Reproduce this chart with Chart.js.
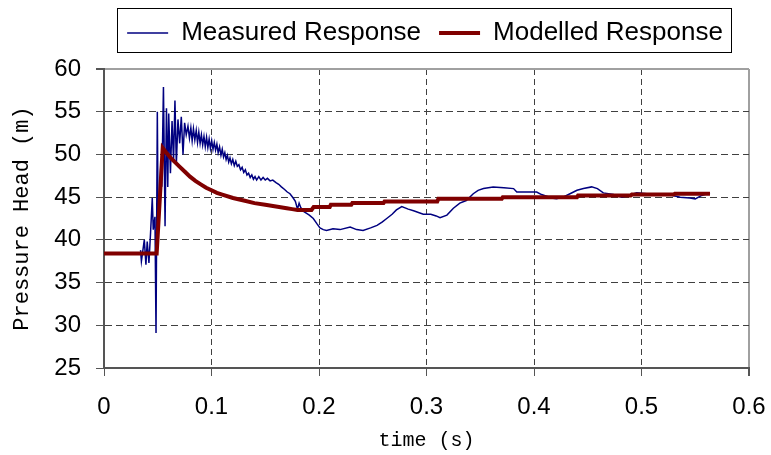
<!DOCTYPE html>
<html>
<head>
<meta charset="utf-8">
<script src="https://cdn.jsdelivr.net/npm/chart.js@4.4.0/dist/chart.umd.min.js"></script>
<style>
  html, body { margin: 0; padding: 0; background: #fff; }
  canvas { display: block; }
</style>
</head>
<body>
<canvas id="chart" width="771" height="455"></canvas>
<script>
// datos
const measuredTime = [
  0.0340, 0.0348, 0.0375, 0.0390, 0.0402, 0.0418, 0.0433, 0.0449, 0.0458, 0.0474,
  0.0484, 0.0496, 0.0504, 0.0517, 0.0529, 0.0538, 0.0553, 0.0568, 0.0581, 0.0593,
  0.0602, 0.0618, 0.0633, 0.0647, 0.0660, 0.0673, 0.0688, 0.0704, 0.0719, 0.0735,
  0.0750, 0.0765, 0.0781, 0.0795, 0.0808, 0.0820, 0.0832, 0.0845, 0.0858, 0.0870,
  0.0882, 0.0894, 0.0906, 0.0918, 0.0930, 0.0942, 0.0954, 0.0966, 0.0978, 0.0990,
  0.1002, 0.1014, 0.1026, 0.1038, 0.1050, 0.1062, 0.1075, 0.1088, 0.1100, 0.1112,
  0.1124, 0.1136, 0.1148, 0.1160, 0.1172, 0.1185, 0.1198, 0.1212, 0.1226, 0.1240,
  0.1255, 0.1270, 0.1285, 0.1300, 0.1315, 0.1330, 0.1345, 0.1360, 0.1375, 0.1390,
  0.1405, 0.1420, 0.1440, 0.1460, 0.1480, 0.1500, 0.1520, 0.1545, 0.1570, 0.1600,
  0.1625, 0.1650, 0.1680, 0.1705, 0.1730, 0.1760, 0.1780, 0.1800, 0.1815, 0.1830,
  0.1860, 0.1885, 0.1910, 0.1947, 0.1980, 0.2009, 0.2040, 0.2070, 0.2130, 0.2195,
  0.2290, 0.2350, 0.2410, 0.2480, 0.2540, 0.2590, 0.2630, 0.2680, 0.2720, 0.2770,
  0.2830, 0.2880, 0.2970, 0.3040, 0.3090, 0.3126, 0.3190, 0.3250, 0.3310, 0.3370,
  0.3435, 0.3480, 0.3530, 0.3620, 0.3720, 0.3810, 0.3840, 0.3930, 0.4025, 0.4070,
  0.4118, 0.4160, 0.4210, 0.4270, 0.4335, 0.4400, 0.4460, 0.4536, 0.4590, 0.4645,
  0.4740, 0.4815, 0.4880, 0.4955, 0.5050, 0.5140, 0.5250, 0.5360, 0.5450, 0.5500,
  0.5560, 0.5637
];
const measuredHead = [
  38.8, 37.5, 40.0, 37.1, 39.8, 37.3, 40.8, 44.9, 41.2, 42.7,
  29.1, 55.0, 41.2, 43.5, 49.3, 46.2, 57.9, 41.6, 55.4, 46.2,
  54.8, 47.8, 53.9, 49.2, 56.3, 48.8, 54.1, 51.3, 54.4, 50.0,
  53.7, 52.3, 53.3, 51.9, 53.1, 51.6, 53.0, 51.7, 52.8, 51.4,
  52.6, 51.3, 52.3, 51.1, 52.1, 50.9, 52.0, 50.8, 51.8, 50.7,
  51.6, 50.6, 51.4, 50.5, 51.2, 50.2, 50.9, 49.9, 50.6, 49.7,
  50.2, 49.4, 49.9, 49.1, 49.6, 48.9, 49.4, 48.7, 49.2, 48.6,
  48.8, 48.2, 48.5, 47.9, 48.2, 47.6, 47.8, 47.3, 47.6, 47.1,
  47.4, 47.0, 47.4, 47.0, 47.3, 47.0, 47.2, 46.9, 47.0, 46.7,
  46.5, 46.2, 45.9, 45.6, 45.4, 44.9, 44.5, 43.6, 44.3, 43.8,
  43.3, 43.1, 42.9, 42.5, 41.9, 41.4, 41.2, 41.1, 41.3, 41.2,
  41.5, 41.2, 41.1, 41.4, 41.7, 42.1, 42.5, 43.0, 43.5, 43.9,
  43.6, 43.4, 43.0, 43.0, 42.8, 42.6, 42.9, 43.7, 44.3, 44.6,
  45.4, 45.8, 46.0, 46.2, 46.1, 46.0, 45.6, 45.6, 45.6, 45.3,
  45.1, 44.9, 44.8, 45.0, 45.4, 45.8, 46.0, 46.2, 46.0, 45.5,
  45.3, 45.0, 45.2, 45.5, 45.4, 45.4, 45.3, 45.0, 44.9, 44.8,
  45.2, 45.5
];
const modelTime = [
  0, 0.0490, 0.0546, 0.0580, 0.0620, 0.0660, 0.0700, 0.0750, 0.0800, 0.0850,
  0.0900, 0.0950, 0.1000, 0.1050, 0.1100, 0.1200, 0.1300, 0.1400, 0.1500, 0.1600,
  0.1700, 0.1750, 0.1800, 0.1930, 0.1950, 0.2100, 0.2110, 0.2300, 0.2310, 0.2600,
  0.2610, 0.3100, 0.3110, 0.3700, 0.3710, 0.4400, 0.4410, 0.4900, 0.4910, 0.5300,
  0.5310, 0.5637
];
const modelHead = [
  38.4, 38.4, 50.75, 50.2, 49.6, 49.1, 48.6, 48.0, 47.4, 46.9,
  46.5, 46.1, 45.8, 45.5, 45.3, 44.9, 44.6, 44.3, 44.1, 43.9,
  43.7, 43.6, 43.5, 43.5, 43.85, 43.85, 44.1, 44.1, 44.3, 44.3,
  44.5, 44.5, 44.8, 44.8, 45.0, 45.0, 45.2, 45.2, 45.3, 45.3,
  45.4, 45.4
];
const seriesNames = ["Measured Response", "Modelled Response"];
const xTicks = [0, 0.1, 0.2, 0.3, 0.4, 0.5, 0.6];
const yTicks = [25, 30, 35, 40, 45, 50, 55, 60];

Chart.defaults.font.family = "'Liberation Sans', Arial, sans-serif";
Chart.defaults.color = "#000";

const LEGEND_CENTER = 425;
const LEGEND_TOP = 2;

// mueve la leyenda y le pone el recuadro
const legendBox = {
  id: "legendBox",
  afterLayout(chart) {
    const lg = chart.legend;
    const dx = LEGEND_CENTER - (lg.left + lg.right) / 2;
    const dy = LEGEND_TOP - lg.top;
    lg.left += dx;
    lg.right += dx;
    lg.top += dy;
    lg.bottom += dy;
  },
  afterDraw(chart) {
    const lg = chart.legend;
    const w = lg.lineWidths[0] - lg.options.labels.padding;
    const c = chart.ctx;
    c.save();
    c.strokeStyle = "#000";
    c.lineWidth = 1;
    c.strokeRect(Math.round(LEGEND_CENTER - w / 2 - 10) + 0.5, 8.5, Math.round(w + 18), 44);
    c.restore();
  },
};

const ctx = document.getElementById("chart").getContext("2d");
const pressureChart = new Chart(ctx, {
  type: "line",
  data: {
    datasets: [
      {
        label: seriesNames[0],
        data: measuredTime.map((t, i) => ({ x: t, y: measuredHead[i] })),
        borderColor: "#000080",
        backgroundColor: "#000080",
        borderWidth: 1.5,
        order: 2,
      },
      {
        label: seriesNames[1],
        data: modelTime.map((t, i) => ({ x: t, y: modelHead[i] })),
        borderColor: "#800000",
        backgroundColor: "#800000",
        borderWidth: 4,
        order: 1,
      },
    ],
  },
  options: {
    responsive: false,
    animation: false,
    devicePixelRatio: 1,
    layout: { padding: { top: 15, right: 22, bottom: 0, left: 0 } },
    elements: {
      point: { radius: 0, hoverRadius: 0 },
      line: { tension: 0, fill: false },
    },
    plugins: {
      tooltip: { enabled: false },
      legend: {
        position: "top",
        labels: {
          font: { size: 26 },
          color: "#000",
          usePointStyle: true,
          pointStyle: "line",
          pointStyleWidth: 41,
          padding: 18,
          sort: (a, b) => a.datasetIndex - b.datasetIndex,
        },
      },
    },
    scales: {
      x: {
        type: "linear",
        min: xTicks[0],
        max: xTicks[xTicks.length - 1],
        afterFit: (s) => {
          s.height = 87;
          s.paddingLeft = 0;
          s.paddingRight = 0;
        },
        afterBuildTicks: (s) => { s.ticks = xTicks.map((v) => ({ value: v })); },
        ticks: {
          font: { size: 24 },
          color: "#000",
          padding: 17,
          maxRotation: 0,
          callback: (v) => (v === 0 ? "0" : v.toFixed(1)),
        },
        grid: {
          color: (c) => (c.tick && c.tick.value === 0.6 ? "#a0a0a0" : "#404040"),
          lineWidth: (c) => (c.tick && c.tick.value === 0.6 ? 2 : 1),
          tickLength: 8,
          tickColor: "#555",
        },
        border: {
          color: "#555",
          width: 2,
          dash: (c) => (c.tick && c.tick.value === 0.6 ? [] : [6, 4]),
        },
        title: {
          display: true,
          text: "time (s)",
          font: { family: "'Liberation Mono', monospace", size: 20 },
          color: "#000",
          padding: { top: 0, bottom: 2 },
        },
      },
      y: {
        min: yTicks[0],
        max: yTicks[yTicks.length - 1],
        afterFit: (s) => { s.width = 104; },
        afterBuildTicks: (s) => { s.ticks = yTicks.map((v) => ({ value: v })); },
        ticks: {
          font: { size: 24 },
          color: "#000",
          padding: 15,
        },
        grid: {
          color: (c) => (c.tick && c.tick.value === 60 ? "#a0a0a0" : "#404040"),
          lineWidth: (c) => (c.tick && c.tick.value === 60 ? 2 : 1),
          tickLength: 8,
          tickColor: "#555",
        },
        border: {
          color: "#555",
          width: 2,
          dash: (c) => (c.tick && c.tick.value === 60 ? [] : [7, 4]),
        },
        title: {
          display: true,
          text: "Pressure Head (m)",
          font: { family: "'Liberation Mono', monospace", size: 22 },
          color: "#000",
          padding: { top: 9, bottom: 0 },
        },
      },
    },
  },
  plugins: [legendBox],
});
</script>
</body>
</html>
